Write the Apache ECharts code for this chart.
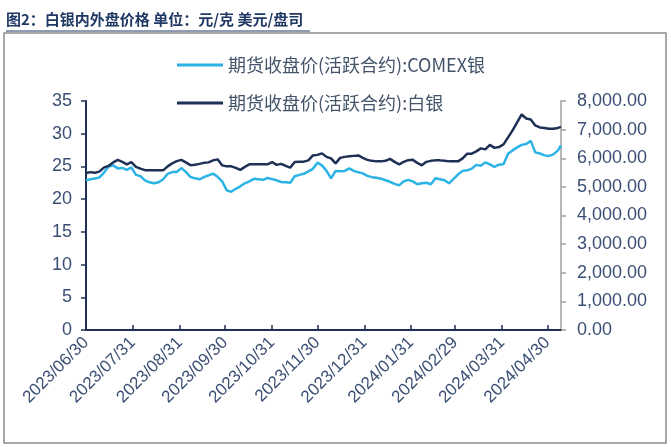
<!DOCTYPE html>
<html>
<head>
<meta charset="utf-8">
<script src="https://cdn.jsdelivr.net/npm/echarts@6/dist/echarts.min.js"></script>
<style>
html,body{margin:0;padding:0;background:#fff;}
#chart{width:671px;height:447px;}
</style>
</head>
<body>
<div id="chart"></div>
<script>
// 取样日期（约每3天读一次图）
var sampleDates = [
  '2023/06/30','2023/07/03','2023/07/06','2023/07/09','2023/07/12','2023/07/15','2023/07/18','2023/07/21','2023/07/24','2023/07/27','2023/07/30',
  '2023/08/02','2023/08/05','2023/08/08','2023/08/11','2023/08/14','2023/08/17','2023/08/20','2023/08/23','2023/08/26','2023/08/29',
  '2023/09/01','2023/09/04','2023/09/07','2023/09/10','2023/09/13','2023/09/16','2023/09/19','2023/09/22','2023/09/25','2023/09/28',
  '2023/10/01','2023/10/04','2023/10/07','2023/10/10','2023/10/13','2023/10/16','2023/10/19','2023/10/22','2023/10/25','2023/10/28','2023/10/31',
  '2023/11/03','2023/11/06','2023/11/09','2023/11/12','2023/11/15','2023/11/18','2023/11/21','2023/11/24','2023/11/27','2023/11/30',
  '2023/12/03','2023/12/06','2023/12/09','2023/12/12','2023/12/15','2023/12/18','2023/12/21','2023/12/24','2023/12/27','2023/12/30',
  '2024/01/02','2024/01/05','2024/01/08','2024/01/11','2024/01/14','2024/01/17','2024/01/20','2024/01/23','2024/01/26','2024/01/29',
  '2024/02/01','2024/02/04','2024/02/07','2024/02/10','2024/02/13','2024/02/16','2024/02/19','2024/02/22','2024/02/25','2024/02/28',
  '2024/03/02','2024/03/05','2024/03/08','2024/03/11','2024/03/14','2024/03/17','2024/03/20','2024/03/23','2024/03/26','2024/03/29',
  '2024/04/01','2024/04/04','2024/04/07','2024/04/10','2024/04/13','2024/04/16','2024/04/19','2024/04/22','2024/04/25','2024/04/28',
  '2024/05/01','2024/05/04','2024/05/07','2024/05/09'
];
// 期货收盘价(活跃合约):COMEX银  美元/盎司（左轴）
var comexSilver = [
  22.88,23.03,23.15,23.33,24.10,25.00,25.16,24.70,24.78,24.48,24.86,
  23.71,23.52,22.88,22.57,22.42,22.57,23.03,23.87,24.14,24.14,
  24.75,24.17,23.41,23.18,23.03,23.38,23.64,23.90,23.41,22.72,
  21.35,21.12,21.58,21.96,22.42,22.72,23.10,23.03,22.95,23.23,23.06,
  22.88,22.62,22.57,22.50,23.49,23.71,23.87,24.25,24.63,25.57,
  25.16,24.32,23.18,24.32,24.28,24.32,24.70,24.32,24.10,23.94,
  23.56,23.36,23.26,23.13,22.88,22.65,22.34,22.11,22.72,22.95,
  22.72,22.27,22.42,22.50,22.27,23.18,23.03,22.88,22.42,23.10,
  23.79,24.32,24.40,24.66,25.24,25.09,25.62,25.32,24.93,25.27,
  25.32,26.92,27.45,27.91,28.29,28.44,28.90,27.15,26.99,26.69,
  26.61,26.84,27.45,28.20
];
// 期货收盘价(活跃合约):白银  元/千克（右轴）
var shfeSilver = [
  5483,5515,5490,5543,5682,5734,5856,5944,5874,5787,5867,
  5700,5637,5585,5578,5578,5578,5578,5717,5822,5898,
  5944,5856,5759,5776,5804,5839,5856,5926,5961,5752,
  5717,5717,5665,5595,5700,5787,5787,5787,5787,5787,5867,
  5769,5804,5734,5672,5867,5874,5881,5926,6100,6118,
  6170,6048,5996,5822,6013,6048,6066,6083,6100,6013,
  5944,5909,5891,5891,5909,5978,5874,5787,5874,5933,
  5944,5839,5752,5874,5909,5926,5926,5909,5891,5891,
  5891,5996,6160,6160,6240,6345,6310,6467,6362,6390,
  6484,6728,6972,7251,7530,7390,7355,7146,7077,7059,
  7031,7031,7059,7094
];
// 横轴刻度（月末）
var monthEnds = ['2023/06/30','2023/07/31','2023/08/31','2023/09/30','2023/10/31','2023/11/30',
  '2023/12/31','2024/01/31','2024/02/29','2024/03/31','2024/04/30'];
var leftMin = 0, leftMax = 35, leftStep = 5;
var rightMin = 0, rightMax = 8000, rightStep = 1000;
var startDay = '2023/06/30', endDay = '2024/05/09';

var seriesNames = ['期货收盘价(活跃合约):COMEX银', '期货收盘价(活跃合约):白银'];

function fmtDate(d) {
    var m = d.getUTCMonth() + 1, day = d.getUTCDate();
    return d.getUTCFullYear() + '/' + (m < 10 ? '0' : '') + m + '/' + (day < 10 ? '0' : '') + day;
}
function toUTC(s) {
    var p = s.split('/');
    return Date.UTC(+p[0], +p[1] - 1, +p[2]);
}

// 日历日作为类目轴
var categories = [];
for (var t = toUTC(startDay); t <= toUTC(endDay); t += 86400000) {
    categories.push(fmtDate(new Date(t)));
}

function isMonthEnd(index, value) {
    return monthEnds.indexOf(value) > -1;
}

var txtColor = '#3b4f74';
var navy = '#1f3056';
var sky = '#2cb3e6';
var fontFam = 'Liberation Sans, Arial, sans-serif';

var myChart = echarts.init(document.getElementById('chart'));
var option = {
    animation: false,
    backgroundColor: '#fff',
    graphic: [
        {
            type: 'text', left: 6, top: 12,
            style: {
                text: '图2：白银内外盘价格 单位：元/克 美元/盘司',
                fill: '#1f3864',
                font: 'bold 15px "Noto Sans CJK SC"'
            }
        },
        {
            type: 'line', shape: {x1: 6, y1: 31, x2: 310, y2: 31},
            style: {stroke: '#1f3864', lineWidth: 1}
        },
        {
            type: 'rect', shape: {x: 4, y: 33, width: 662, height: 410},
            style: {fill: 'none', stroke: '#8c8c8c', lineWidth: 1.5}
        }
    ],
    legend: {
        orient: 'vertical',
        left: 172,
        top: 51,
        itemWidth: 46,
        itemHeight: 18,
        itemGap: 20,
        icon: 'path://M0,0 L46,0 L46,3 L0,3 Z',
        textStyle: {
            color: '#44546a',
            fontSize: 18,
            fontFamily: '"Noto Sans CJK SC"'
        },
        data: seriesNames
    },
    grid: {
        left: 86,
        right: 110,
        top: 101,
        bottom: 117,
        containLabel: false
    },
    xAxis: {
        type: 'category',
        data: categories,
        boundaryGap: false,
        axisLine: {lineStyle: {color: navy, width: 2}},
        axisTick: {
            inside: true,
            length: 5,
            interval: isMonthEnd,
            lineStyle: {color: navy, width: 1.5}
        },
        axisLabel: {
            interval: isMonthEnd,
            rotate: 45,
            margin: 10,
            color: txtColor,
            fontSize: 17,
            fontFamily: fontFam
        },
        splitLine: {show: false}
    },
    yAxis: [
        {
            type: 'value',
            min: leftMin,
            max: leftMax,
            interval: leftStep,
            axisLine: {show: true, lineStyle: {color: navy, width: 2}},
            axisTick: {show: true, length: 5, lineStyle: {color: navy, width: 1.5}},
            axisLabel: {margin: 14, color: txtColor, fontSize: 18, fontFamily: fontFam},
            splitLine: {show: false}
        },
        {
            type: 'value',
            min: rightMin,
            max: rightMax,
            interval: rightStep,
            position: 'right',
            axisLine: {show: true, lineStyle: {color: '#a0a0a0', width: 1.5}},
            axisTick: {show: true, length: 5, lineStyle: {color: '#a0a0a0', width: 1.5}},
            axisLabel: {
                margin: 16,
                color: txtColor,
                fontSize: 18,
                fontFamily: fontFam,
                formatter: function (v) {
                    return v.toLocaleString('en-US', {minimumFractionDigits: 2, maximumFractionDigits: 2});
                }
            },
            splitLine: {show: false}
        }
    ],
    series: [
        {
            name: seriesNames[0],
            type: 'line',
            yAxisIndex: 0,
            symbol: 'none',
            lineStyle: {color: sky, width: 2.5},
            itemStyle: {color: sky},
            data: sampleDates.map(function (d, i) { return [d, comexSilver[i]]; })
        },
        {
            name: seriesNames[1],
            type: 'line',
            yAxisIndex: 1,
            symbol: 'none',
            lineStyle: {color: navy, width: 2.5},
            itemStyle: {color: navy},
            data: sampleDates.map(function (d, i) { return [d, shfeSilver[i]]; })
        }
    ]
};
myChart.setOption(option);
</script>
</body>
</html>
